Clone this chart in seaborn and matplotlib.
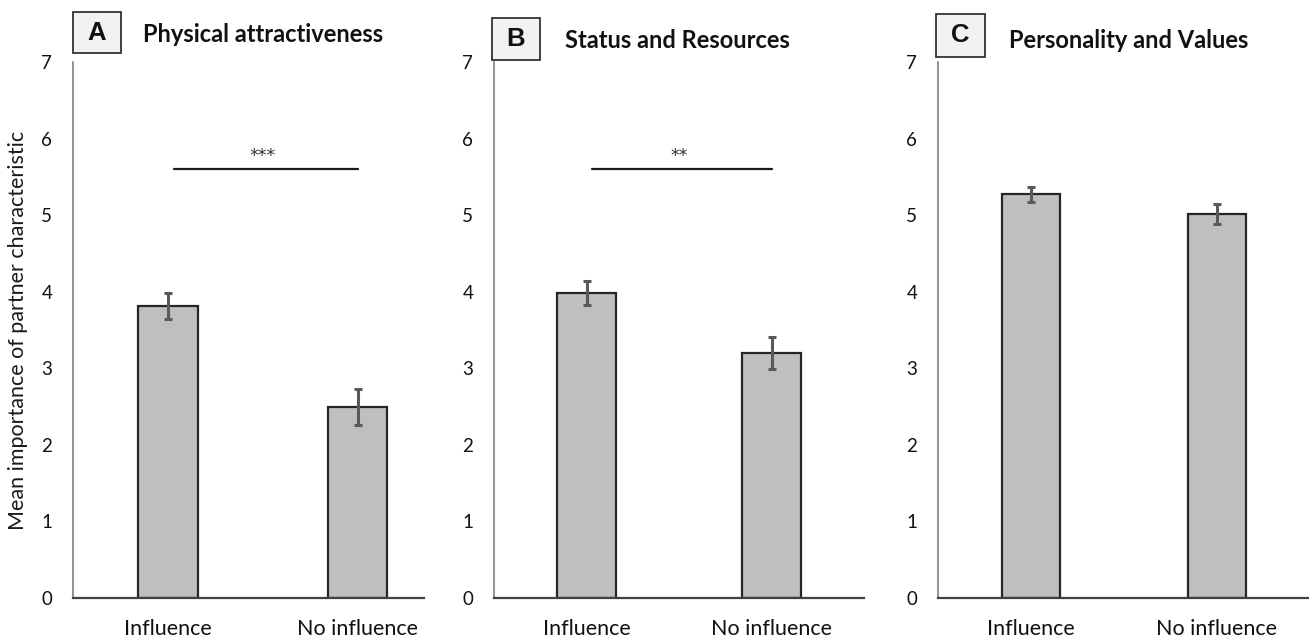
import matplotlib
matplotlib.use("Agg")
import matplotlib.pyplot as plt
from matplotlib.patches import Rectangle
import seaborn as sns
import pandas as pd

# Group labels shared by all panels
groups = ["Influence", "No influence"]

# Panel titles and letters
panel_letters = ["A", "B", "C"]
panel_titles = ["Physical attractiveness", "Status and Resources", "Personality and Values"]

# Mean importance ratings per panel (Influence, No influence)
means_physical = [3.81, 2.49]
means_status = [3.98, 3.20]
means_personality = [5.27, 5.01]

# Standard errors per panel
sem_physical = [0.17, 0.235]
sem_status = [0.16, 0.21]
sem_personality = [0.10, 0.13]

# Significance markers (None = no bracket)
sig_labels = ["***", "**", None]
sig_heights = [5.6, 5.6, None]

y_ticks = [0, 1, 2, 3, 4, 5, 6, 7]

sns.set_theme(style="white")
plt.rcParams["font.family"] = ["Lato", "DejaVu Sans"]

W, H = 1309, 638
fig = plt.figure(figsize=(W / 100, H / 100), dpi=100)

bottom = 1 - 598 / H
height = (598 - 62) / H
axes_specs = [
    (73 / W, 351 / W, (-0.5, 1.35)),
    (494 / W, 370 / W, (-0.5, 1.5)),
    (938 / W, 372 / W, (-0.5, 1.5)),
]

all_means = [means_physical, means_status, means_personality]
all_sems = [sem_physical, sem_status, sem_personality]

# Label boxes (left, top, right, bottom in pixels) and title start positions
box_px = [(73, 12, 121, 53), (492, 18, 540, 60), (936, 14, 985, 57)]
title_px = [(143, 35), (565, 40), (1009, 41)]

for i, (left, width, xlim) in enumerate(axes_specs):
    ax = fig.add_axes([left, bottom, width, height])
    df = pd.DataFrame({"group": groups, "mean": all_means[i]})
    sns.barplot(data=df, x="group", y="mean", ax=ax, color="#BFBFBF",
                saturation=1, edgecolor="#262626", linewidth=1.6,
                width=0.315, errorbar=None)
    ax.errorbar(range(len(groups)), all_means[i], yerr=all_sems[i], fmt="none",
                ecolor="#595959", elinewidth=2.2, capsize=3, capthick=2.2)
    ax.set_xlim(*xlim)
    ax.set_ylim(0, 7)
    ax.set_yticks(y_ticks)
    ax.set_xlabel("")
    ax.set_ylabel("")
    for s in ["top", "right"]:
        ax.spines[s].set_visible(False)
    ax.spines["left"].set_color("#808080")
    ax.spines["left"].set_linewidth(1.2)
    ax.spines["bottom"].set_color("#404040")
    ax.spines["bottom"].set_linewidth(1.6)
    ax.tick_params(axis="y", length=0, pad=15, labelsize=13.5, labelcolor="#111111")
    ax.tick_params(axis="x", length=0, pad=15, labelsize=15.5, labelcolor="#111111")

    if sig_labels[i]:
        h = sig_heights[i]
        ax.plot([0.03, 1.0], [h, h], color="#1a1a1a", lw=1.6)
        ax.text(0.5, h + 0.05, sig_labels[i], ha="center", va="bottom",
                fontsize=12.5, color="#333333", family=["DejaVu Sans"])

    x0, y0, x1, y1 = box_px[i]
    fig.patches.append(Rectangle((x0 / W, 1 - y1 / H), (x1 - x0) / W, (y1 - y0) / H,
                                 transform=fig.transFigure, facecolor="#F2F2F2",
                                 edgecolor="#333333", linewidth=1.3))
    fig.text((x0 + x1) / 2 / W, 1 - (y0 + y1) / 2 / H, panel_letters[i],
             ha="center", va="center", fontsize=18.5, fontweight="bold",
             color="#111111", family=["Liberation Sans"])
    tx, ty = title_px[i]
    fig.text(tx / W, 1 - ty / H, panel_titles[i], ha="left", va="center",
             fontsize=17, fontweight="bold", color="#111111")

fig.text(18 / W, 1 - 330 / H, "Mean importance of partner characteristic",
         rotation=90, ha="center", va="center", fontsize=15.5, color="#1a1a1a")

fig.savefig("out.png", dpi=100)
